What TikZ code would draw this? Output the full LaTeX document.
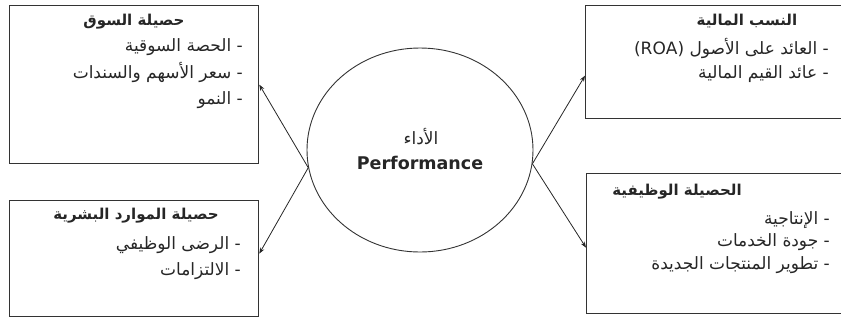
\documentclass[tikz,border=0pt]{standalone}
\usepackage{fontspec}
\setmainfont{DejaVu Sans}
\newfontfamily\arabicfont[Script=Arabic]{DejaVu Sans}
\TeXXeTstate=1
\usetikzlibrary{shapes.geometric,arrows.meta}

% right-to-left Arabic run
\newcommand\artxt[1]{{\arabicfont\beginR #1\endR}}

\tikzset{
  panel/.style={draw=black!80, line width=1.3pt, inner sep=0pt, anchor=north west},
  heading/.style={inner sep=0pt, text=black!85, font=\arabicfont\bfseries\fontsize{15}{17}\selectfont},
  entry/.style={inner sep=0pt, anchor=east, text=black!85, font=\arabicfont\fontsize{17}{19}\selectfont},
  link/.style={draw=black!85, line width=0.8pt, -{Stealth[length=6pt,width=4.5pt]}}
}

\begin{document}
\begin{tikzpicture}[x=1pt,y=-1pt]
\useasboundingbox (0,0) rectangle (841,325);
\clip (0,0) rectangle (841,325);

% outer boxes
\node[panel, minimum width=249pt, minimum height=158pt] (tl) at (9,5) {};
\node[panel, minimum width=249pt, minimum height=116pt] (bl) at (9,200) {};
\node[panel, minimum width=330pt, minimum height=113pt] (tr) at (585,5) {};
\node[panel, minimum width=330pt, minimum height=140pt] (br) at (586,173) {};

% central ellipse
\node[ellipse, draw=black!80, line width=0.9pt, minimum width=226pt, minimum height=204pt, inner sep=0pt] (perf) at (420,150) {};
\node[inner sep=0pt, text=black!85, font=\arabicfont\fontsize{17}{19}\selectfont] (perfar) at (421,137) {\artxt{الأداء}};
\node[inner sep=0pt, font=\bfseries\fontsize{17.5}{20}\selectfont, text=black!85] (perfen) at (420,163) {Performance};

% market outcome
\node[heading] (tlh) at (134,22) {\artxt{حصيلة السوق}};
\node[entry] (tl1) at (243,47) {\artxt{- الحصة السوقية}};
\node[entry] (tl2) at (243,72) {\artxt{- سعر الأسهم والسندات}};
\node[entry] (tl3) at (243,100) {\artxt{- النمو}};

% human resources outcome
\node[heading] (blh) at (136,216) {\artxt{حصيلة الموارد البشرية}};
\node[entry] (bl1) at (241,245) {\artxt{- الرضى الوظيفي}};
\node[entry] (bl2) at (241,271) {\artxt{- الالتزامات}};

% financial ratios
\node[heading] (trh) at (747,21) {\artxt{النسب المالية}};
\node[entry] (tr1) at (829,48) {\artxt{- العائد على الأصول \beginL(ROA)\endL}};
\node[entry] (tr2) at (829,74) {\artxt{- عائد القيم المالية}};

% operational outcome
\node[heading] (brh) at (677,192) {\artxt{الحصيلة الوظيفية}};
\node[entry] (br1) at (830,220) {\artxt{- الإنتاجية}};
\node[entry] (br2) at (830,242) {\artxt{- جودة الخدمات}};
\node[entry] (br3) at (830,265) {\artxt{- تطوير المنتجات الجديدة}};

% connectors
\draw[link] (perf.189) -- (tl.east);
\draw[link] (perf.189) -- ([yshift=5pt]bl.east);
\draw[link] (perf.353) -- ([yshift=-13.5pt]tr.west);
\draw[link] (perf.353) -- ([yshift=-4pt]br.west);
\end{tikzpicture}
\end{document}
